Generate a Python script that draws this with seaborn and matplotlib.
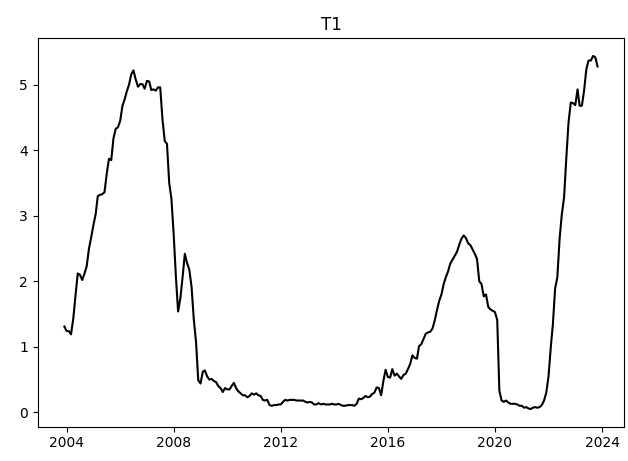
import matplotlib
matplotlib.use("Agg")
import matplotlib.pyplot as plt
import seaborn as sns
import pandas as pd
import numpy as np

start_month = "2003-12-01"
values = [
    1.31,
    1.24, 1.24, 1.19, 1.43, 1.78, 2.12, 2.10, 2.02, 2.12, 2.23, 2.50, 2.67,  # 2004
    2.86, 3.03, 3.30, 3.32, 3.33, 3.36, 3.64, 3.87, 3.85, 4.18, 4.33, 4.35,  # 2005
    4.45, 4.68, 4.77, 4.90, 5.00, 5.16, 5.22, 5.08, 4.97, 5.01, 5.01, 4.94,  # 2006
    5.06, 5.05, 4.92, 4.93, 4.91, 4.96, 4.96, 4.47, 4.14, 4.10, 3.50, 3.26,  # 2007
    2.71, 2.05, 1.54, 1.74, 2.06, 2.42, 2.28, 2.18, 1.91, 1.42, 1.07, 0.49,  # 2008
    0.44, 0.62, 0.64, 0.55, 0.50, 0.51, 0.48, 0.46, 0.40, 0.37, 0.31, 0.37,  # 2009
    0.35, 0.35, 0.40, 0.45, 0.37, 0.32, 0.29, 0.26, 0.26, 0.23, 0.25, 0.29,  # 2010
    0.27, 0.29, 0.26, 0.25, 0.19, 0.18, 0.19, 0.11, 0.10, 0.11, 0.11, 0.12,  # 2011
    0.12, 0.16, 0.19, 0.18, 0.19, 0.19, 0.19, 0.18, 0.18, 0.18, 0.18, 0.16,  # 2012
    0.15, 0.16, 0.15, 0.12, 0.12, 0.14, 0.12, 0.13, 0.12, 0.12, 0.12, 0.13,  # 2013
    0.12, 0.12, 0.13, 0.11, 0.10, 0.10, 0.11, 0.11, 0.11, 0.10, 0.13, 0.21,  # 2014
    0.20, 0.22, 0.25, 0.23, 0.24, 0.28, 0.30, 0.38, 0.37, 0.26, 0.48, 0.65,  # 2015
    0.54, 0.53, 0.66, 0.56, 0.59, 0.55, 0.51, 0.57, 0.59, 0.66, 0.74, 0.87,  # 2016
    0.83, 0.82, 1.01, 1.04, 1.12, 1.20, 1.22, 1.23, 1.28, 1.40, 1.56, 1.70,  # 2017
    1.80, 1.96, 2.06, 2.15, 2.27, 2.33, 2.39, 2.45, 2.56, 2.65, 2.70, 2.66,  # 2018
    2.58, 2.55, 2.49, 2.42, 2.34, 2.00, 1.96, 1.77, 1.80, 1.61, 1.57, 1.55,  # 2019
    1.53, 1.41, 0.33, 0.18, 0.16, 0.18, 0.15, 0.13, 0.13, 0.13, 0.12, 0.10,  # 2020
    0.10, 0.07, 0.08, 0.06, 0.05, 0.07, 0.08, 0.07, 0.08, 0.11, 0.18, 0.30,  # 2021
    0.55, 1.00, 1.34, 1.89, 2.06, 2.65, 3.02, 3.28, 3.89, 4.43, 4.73, 4.72,  # 2022
    4.69, 4.93, 4.68, 4.68, 4.91, 5.24, 5.37, 5.37, 5.44, 5.42, 5.28,        # 2023
]
dates = pd.date_range(start_month, periods=len(values), freq="MS")
title = "T1"

df = pd.DataFrame({"date": dates, "T1": values})

fig = plt.figure(figsize=(6.28, 4.61), dpi=100)
ax = fig.add_axes([0.060, 0.0744, 0.934, 0.8425])
sns.lineplot(data=df, x="date", y="T1", color="black", linewidth=1.5, ax=ax)
ax.set_title(title)
ax.set_xlabel("")
ax.set_ylabel("")
fig.savefig("out.png", dpi=100)
